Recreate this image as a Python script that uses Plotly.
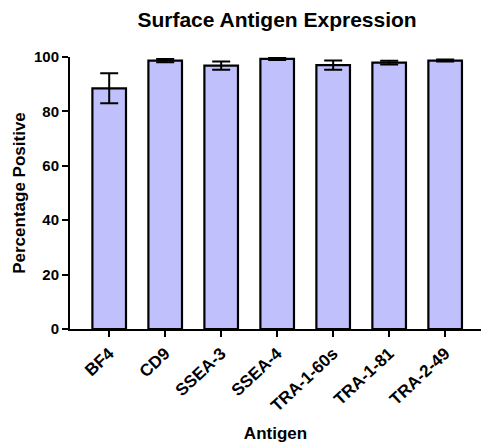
import plotly.graph_objects as go

categories = ["BF4", "CD9", "SSEA-3", "SSEA-4", "TRA-1-60s", "TRA-1-81", "TRA-2-49"]
values = [88.5, 98.7, 96.8, 99.3, 97.0, 97.9, 98.7]
errors = [5.5, 0.6, 1.5, 0.4, 1.7, 0.7, 0.4]
y_ticks = [0, 20, 40, 60, 80, 100]

font_family = "Liberation Sans, Arial, sans-serif"

fig = go.Figure()
fig.add_trace(go.Bar(
    x=categories, y=values,
    width=0.6,
    marker=dict(color="#C0C0FC", line=dict(color="black", width=2.2)),
    error_y=dict(type="data", array=errors, visible=True, color="black", thickness=2, width=9),
    showlegend=False,
))

fig.update_layout(
    width=481, height=443,
    margin=dict(l=70, r=0, t=57, b=114),
    paper_bgcolor="white", plot_bgcolor="white",
    title=dict(text="<b>Surface Antigen Expression</b>", x=0.576, xanchor="center",
               y=0.955, yanchor="middle",
               font=dict(family=font_family, size=21, color="black")),
    font=dict(family=font_family, color="black"),
)
fig.update_xaxes(
    range=[-0.7, 6.64],
    tickmode="array", tickvals=categories, ticktext=[f"<b>{c}</b>" for c in categories],
    tickangle=-43, tickfont=dict(size=17, family=font_family, color="black"),
    ticks="outside", ticklen=6, tickwidth=2, tickcolor="black",
    showline=True, linecolor="black", linewidth=2, showgrid=False, zeroline=False,
    title=dict(text="<b>Antigen</b>", font=dict(size=17, family=font_family), standoff=14),
)
fig.update_yaxes(
    range=[0, 100],
    tickmode="array", tickvals=y_ticks, ticktext=[f"<b>{t}</b>" for t in y_ticks],
    tickfont=dict(size=15, family=font_family, color="black"),
    ticks="outside", ticklen=6, tickwidth=2, tickcolor="black",
    showline=True, linecolor="black", linewidth=2, showgrid=False, zeroline=False,
    title=dict(text="<b>Percentage Positive</b>", font=dict(size=17, family=font_family), standoff=4),
)
fig.write_html("out.html")
